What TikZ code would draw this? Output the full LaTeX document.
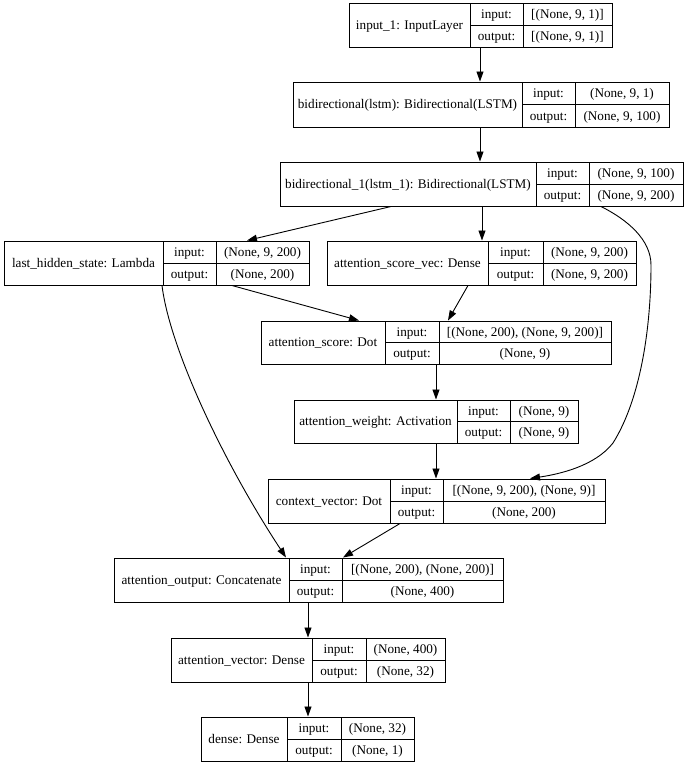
\documentclass[tikz,border=0pt]{standalone}
\usepackage{fontspec}
\setmainfont{Liberation Serif}
\newfontfamily\tnrfont{Liberation Serif}
\usetikzlibrary{arrows.meta,fit}
\tikzset{
  layerframe/.style={draw=black, line width=1pt, inner sep=0pt},
  celltext/.style={inner sep=0pt, anchor=base, yshift=-4.4pt, font=\tnrfont\fontsize{13.2}{15}\selectfont},
  edge/.style={draw=black, line width=0.9pt, -{Triangle[length=10pt,width=7pt]}},
}
% name, left, divider1, divider2, right, top, bottom
\newcommand\layer[7]{%
  \node[layerframe, fit={(#2,#6) (#5,#7)}] (#1) {};
  \draw[line width=1pt] (#3,#6) -- (#3,#7) (#4,#6) -- (#4,#7) (#3,{(#6+#7)/2}) -- (#5,{(#6+#7)/2});
  \coordinate (#1-t) at ({(#2+#3)/2},{(#6+#7)/2});
  \coordinate (#1-il) at ({(#3+#4)/2},{(3*#6+#7)/4});
  \coordinate (#1-ol) at ({(#3+#4)/2},{(#6+3*#7)/4});
  \coordinate (#1-iv) at ({(#4+#5)/2},{(3*#6+#7)/4});
  \coordinate (#1-ov) at ({(#4+#5)/2},{(#6+3*#7)/4});
}
% name, title, input value, output value
\newcommand\layertext[4]{%
  \node[celltext] (#1-title) at (#1-t) {#2};
  \node[celltext] (#1-in) at (#1-il) {input:};
  \node[celltext] (#1-out) at (#1-ol) {output:};
  \node[celltext] (#1-inv) at (#1-iv) {#3};
  \node[celltext] (#1-outv) at (#1-ov) {#4};
}
\begin{document}
\begin{tikzpicture}[x=1pt,y=-1pt]
\useasboundingbox[fill=white] (0,0) rectangle (687,764);

\layer{in1}{349}{470}{523}{612}{3}{47}
\layertext{in1}{input\_1: InputLayer}{[(None, 9, 1)]}{[(None, 9, 1)]}

\layer{bi}{293}{522}{575}{669}{82}{127}
\layertext{bi}{bidirectional(lstm): Bidirectional(LSTM)}{(None, 9, 1)}{(None, 9, 100)}

\layer{bione}{280}{536}{589}{683}{162}{206}
\layertext{bione}{bidirectional\_1(lstm\_1): Bidirectional(LSTM)}{(None, 9, 100)}{(None, 9, 200)}

\layer{lhs}{4}{163}{216}{309}{241}{285}
\layertext{lhs}{last\_hidden\_state: Lambda}{(None, 9, 200)}{(None, 200)}

\layer{asv}{327}{488}{543}{636}{241}{285}
\layertext{asv}{attention\_score\_vec: Dense}{(None, 9, 200)}{(None, 9, 200)}

\layer{as}{261}{385}{439}{611}{321}{364}
\layertext{as}{attention\_score: Dot}{[(None, 200), (None, 9, 200)]}{(None, 9)}

\layer{aw}{294}{457}{510}{578}{400}{443}
\layertext{aw}{attention\_weight: Activation}{(None, 9)}{(None, 9)}

\layer{cv}{268}{390}{443}{605}{479}{523}
\layertext{cv}{context\_vector: Dot}{[(None, 9, 200), (None, 9)]}{(None, 200)}

\layer{ao}{114}{289}{342}{503}{558}{602}
\layertext{ao}{attention\_output: Concatenate}{[(None, 200), (None, 200)]}{(None, 400)}

\layer{av}{171}{312}{366}{445}{638}{682}
\layertext{av}{attention\_vector: Dense}{(None, 400)}{(None, 32)}

\layer{dn}{201}{287}{341}{414}{717}{761}
\layertext{dn}{dense: Dense}{(None, 32)}{(None, 1)}

% connectors
\draw[edge] (in1.south -| 480,0) -- (bi.north -| 480,0);
\draw[edge] (bi.south -| 480,0) -- (bione.north -| 480,0);
\draw[edge] (bione.south -| 391,0) -- (lhs.north -| 247,0);
\draw[edge] (bione.south -| 482,0) -- (asv.north -| 482,0);
\draw[edge] (bione.south -| 601,0) .. controls (628,220) and (651,240) .. (651,265)
  .. controls (651,330) and (640,400) .. (613,443)
  .. controls (595,466) and (560,474) .. (cv.north -| 530,0);
\draw[edge] (lhs.south -| 232,0) -- (as.north -| 359,0);
\draw[edge] (lhs.south -| 162,0) .. controls (170,350) and (225,465) .. (ao.north -| 286,0);
\draw[edge] (asv.south -| 468,0) -- (as.north -| 448,0);
\draw[edge] (as.south -| 436,0) -- (aw.north -| 436,0);
\draw[edge] (aw.south -| 436,0) -- (cv.north -| 436,0);
\draw[edge] (cv.south -| 400,0) -- (ao.north -| 343,0);
\draw[edge] (ao.south -| 308,0) -- (av.north -| 308,0);
\draw[edge] (av.south -| 308,0) -- (dn.north -| 308,0);
\end{tikzpicture}
\end{document}
